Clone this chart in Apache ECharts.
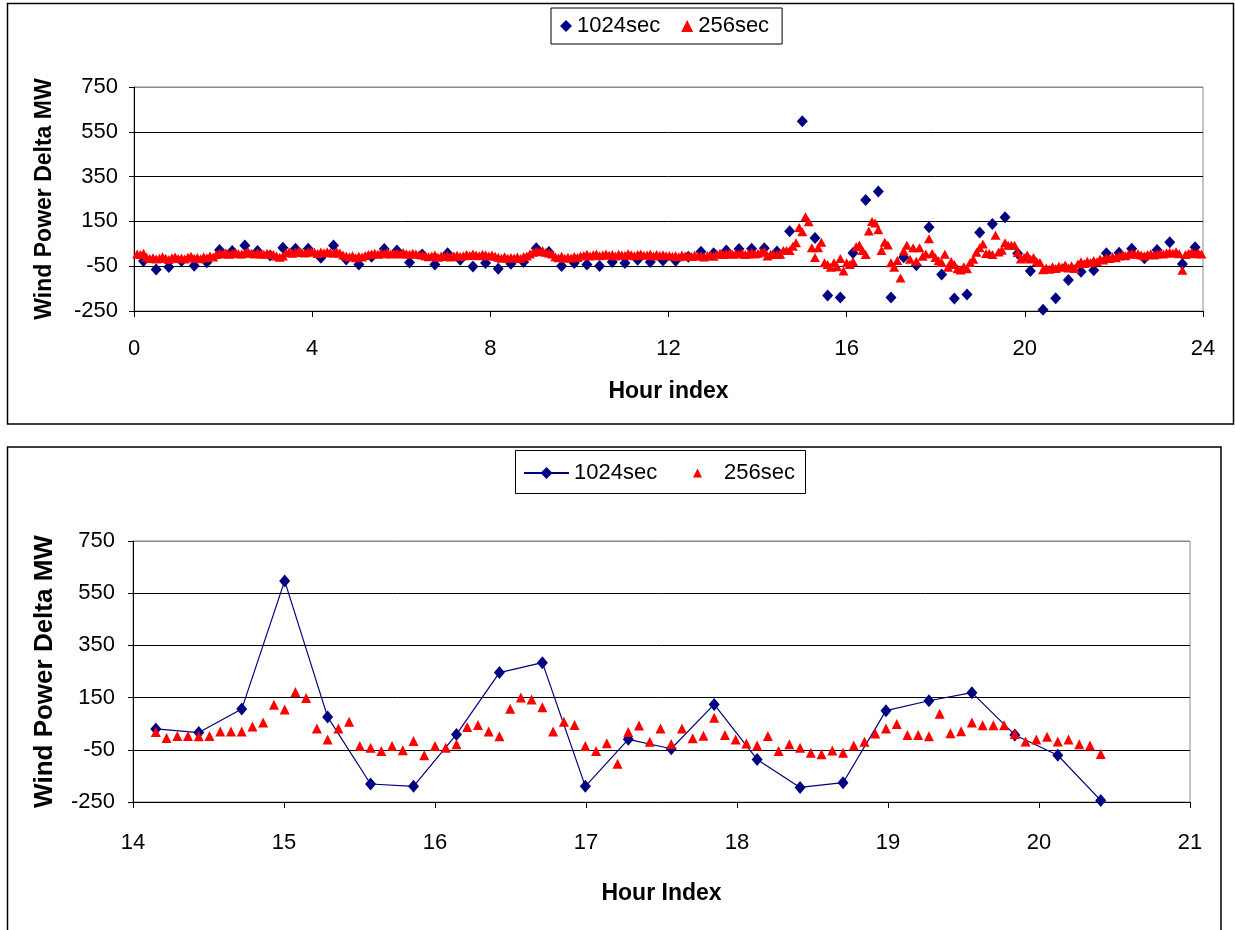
<!DOCTYPE html>
<html>
<head>
<meta charset="utf-8">
<script src="https://cdn.jsdelivr.net/npm/echarts@6/dist/echarts.min.js"></script>
<style>
html,body{margin:0;padding:0;background:#fff;}
#c{width:1235px;height:930px;}
</style>
</head>
<body>
<div id="c"></div>
<script>
// ---------------- DATA ----------------
const SERIES_NAMES = ['1024sec', '256sec'];
const SAMPLE_SEC = 256;                 // 256-second samples; 1024-second samples every 4th
const X_TITLE_TOP = 'Hour index';
const X_TITLE_BOTTOM = 'Hour Index';
const Y_TITLE = 'Wind Power Delta MW';
const xTicksTop = [0, 4, 8, 12, 16, 20, 24];
const xTicksBottom = [14, 15, 16, 17, 18, 19, 20, 21];
const yTicks = [-250, -50, 150, 350, 550, 750];
const zoomWindowHours = [14.1, 20.45];

// 1024sec deltas (MW), 84 samples
const v1024Morning = [-27, -65, -54, -27, -48, -32, 22, 18, 42, 18, -2, 32, 28, 28, -12, 42, -20, -42, -8, 27, 20];
const v1024Midday = [-34, 2, -42, 8, -21, -51, -36, -61, -39, -31, 30, 13, -49, -36, -42, -49, -31, -36, -21, -31, -25, -26, -8, 14, 8, 20, 27, 28];
const v1024Event = [30, 16, 106, 597, 76, -181, -190, 9, 246, 284, -190, -10, -46, 124, -87, -194, -176, 100, 138, 169, 7, -71, -244];
const v1024Night = [-193, -112, -75, -68, 8, 10, 28, -15, 22, 57, -40, 35];

// 256sec deltas (MW), 337 samples
const v256Early = [5, 2, 8,
 -10, -16, -12, -18, -14, -8, -15, -20, -12, -9, -16, -13, -18, -10, -6, -14, -11, -17, -8, -12, -5, -9,
 2, 8, 5, 10, 3, 7, 12, 6, 4, 9, 14, 8, 5, 10, 6, 3, 8, 5, 2,
 -5, -10, -4,
 10, 15, 8, 13, 18, 11, 9, 14, 16, 12, 7, 13, 10, 15, 11, 8, 14, 9,
 0, -5, -8, -3, -12, -6, -9, -2, 2,
 5, 8, 3, 10, 6, 12, 4, 7, 9, 5, 11, 6, 3, 8, 4, 2, 0,
 -3, -8, -5, 0, -10, -4, -7, -2, -9, -5, -1, -6, -3,
 2, -2, 4, 0, -3, 3, 1, -4, 0, -6,
 -10, -14, -8, -15, -11, -13, -9, -16, -7, -4,
 5, 12, 18, 15, 20, 12, 9, 4,
 -8, -12, -6, -14, -10, -13, -7, -11, -5,
 -2, 3, -4, 1, 5, -3, 0, 4, -1, 2, -5, 3, 0, -2, 6, 1, -3, 2, 4, -1, 0, 3, -4, 2, -2, 1, -3,
 -2, -6, -3, -8, 0, -5, -4, -7, -1, -5, -3, -9, -2, 0, -6,
 4, 8, 2, 6, 10, 3, 7, 5, 9, 2, 6, 11, 4, 8, 12];
const v256Event = [18, -5, 3, 3, 2, 3, 20, 20, 20, 39, 55, 123, 104, 171, 148, 32, -11, 32, 57, -35,
 -42, -55, -35, -52, -16, -71, -35, -42, -29, 37, 45, 20, 2, 107, 150, 143, 113, 20, 57, 45,
 -35, -55, -25, -103,
 18, 43, -19, 32, -28, 32, -6, 4, 73, 7, -11, -26, -34, 3, -55, -29, -42, -61, -67, -53,
 -61, -34, -19, 12, 32, 49, 7, 7, 2, 88, 13, 21, 55, 44, 44, 44, 11, -18, -11, 0,
 -18, -11, -29, -34, -66];
const v256Late = [-58, -64, -52, -60, -50, -55, -45, -58, -48, -60,
 -40, -30, -38, -28, -35, -25, -30, -18, -22, -12,
 -16, -8, -12, -4, 2, -3, 5, 8, 3, 6,
 0, -4, 2, 6, 0, 4, 8, 5, 10, 12,
 8, 14, 6, -68, 2, 8, 12, 6, 10, 4];

// ---------------- BUILD ----------------
const v1024 = [].concat(v1024Morning, v1024Midday, v1024Event, v1024Night);
const v256 = [].concat(v256Early, v256Event, v256Late);
const hours = s => s / 3600;
const pts1024 = v1024.map((v, i) => [hours((4 * (i + 1) - 1) * SAMPLE_SEC), v]);
const pts256 = v256.map((v, j) => [hours((j + 1) * SAMPLE_SEC), v]);
const inWin = p => p[0] >= zoomWindowHours[0] && p[0] <= zoomWindowHours[1];
const zoom1024 = pts1024.filter(inWin);
const zoom256 = pts256.filter(inWin);

const FONT = "'Liberation Sans', Arial, sans-serif";
const NAVY = '#000080', RED = '#FF0000';
const yStep = yTicks[1] - yTicks[0];

function xAxis(gi, ticks, title, labelMargin, nameGap) {
  return {
    type: 'value', gridIndex: gi,
    min: ticks[0], max: ticks[ticks.length - 1], interval: ticks[1] - ticks[0],
    axisLine: {show: true, onZero: false, lineStyle: {color: '#000', width: 1}},
    axisTick: {show: true, inside: false, length: 6, lineStyle: {color: '#000'}},
    axisLabel: {fontSize: 22, color: '#000', margin: labelMargin, fontFamily: FONT},
    splitLine: {show: false},
    name: title, nameLocation: 'middle', nameGap: nameGap,
    nameTextStyle: {fontSize: 23, fontWeight: 'bold', color: '#000', fontFamily: FONT}
  };
}
function yAxis(gi, labelMargin, nameGap, nameSize) {
  return {
    type: 'value', gridIndex: gi,
    min: yTicks[0], max: yTicks[yTicks.length - 1], interval: yStep,
    axisLine: {show: true, onZero: false, lineStyle: {color: '#000', width: 1}},
    axisTick: {show: true, inside: false, length: 5, lineStyle: {color: '#000'}},
    axisLabel: {fontSize: 22, color: '#000', margin: labelMargin, fontFamily: FONT},
    splitLine: {show: true, lineStyle: {color: ['#000', '#000', '#000', '#000', '#000', '#8a8a8a'], width: 1}},
    name: Y_TITLE, nameLocation: 'middle', nameGap: nameGap,
    nameTextStyle: {fontSize: nameSize, fontWeight: 'bold', color: '#000', fontFamily: FONT}
  };
}
const legendText = {fontSize: 22, color: '#000', fontFamily: FONT};

const chart = echarts.init(document.getElementById('c'), null, {renderer: 'canvas'});
chart.setOption({
  animation: false,
  backgroundColor: '#fff',
  graphic: [
    {type: 'rect', shape: {x: 7.5, y: 3.5, width: 1226, height: 420.5}, style: {fill: null, stroke: '#000', lineWidth: 1.5}, z: 100, silent: true},
    {type: 'rect', shape: {x: 7.5, y: 447, width: 1213.5, height: 520}, style: {fill: null, stroke: '#000', lineWidth: 1.5}, z: 100, silent: true},
    {type: 'rect', shape: {x: 515.5, y: 450.5, width: 290, height: 43}, style: {fill: null, stroke: '#000', lineWidth: 1}, z: 100, silent: true}
  ],
  grid: [
    {left: 134, top: 87, width: 1069, height: 224, show: true, borderColor: '#8a8a8a', borderWidth: 1, containLabel: false},
    {left: 133, top: 541, width: 1057, height: 261, show: true, borderColor: '#8a8a8a', borderWidth: 1, containLabel: false}
  ],
  legend: [
    {
      data: SERIES_NAMES.slice(), left: 551, top: 8, orient: 'horizontal',
      itemWidth: 12, itemHeight: 12, itemGap: 21, padding: [7, 13, 7, 9],
      borderColor: '#000', borderWidth: 1, backgroundColor: '#fff',
      textStyle: legendText, formatter: n => n.trim(), selectedMode: false
    },
    {
      data: [SERIES_NAMES[0] + ' '], left: 523, top: 462, orient: 'horizontal',
      itemWidth: 45, itemHeight: 15, padding: 0,
      textStyle: legendText, formatter: n => n.trim(), selectedMode: false
    },
    {
      data: [SERIES_NAMES[1] + ' '], left: 693, top: 462, orient: 'horizontal',
      itemWidth: 9, itemHeight: 9, padding: 0,
      textStyle: Object.assign({padding: [0, 0, 0, 17]}, legendText), formatter: n => n.trim(), selectedMode: false
    }
  ],
  xAxis: [xAxis(0, xTicksTop, X_TITLE_TOP, 27, 69), xAxis(1, xTicksBottom, X_TITLE_BOTTOM, 30, 80)],
  yAxis: [yAxis(0, 16, 78, 23), yAxis(1, 18, 75, 26)],
  series: [
    {name: SERIES_NAMES[0], type: 'scatter', xAxisIndex: 0, yAxisIndex: 0, symbol: 'diamond', symbolSize: [11, 12],
     itemStyle: {color: NAVY, opacity: 1}, data: pts1024, z: 2},
    {name: SERIES_NAMES[1], type: 'scatter', xAxisIndex: 0, yAxisIndex: 0, symbol: 'triangle', symbolSize: [10, 9],
     itemStyle: {color: RED, opacity: 1}, data: pts256, z: 3},
    {name: SERIES_NAMES[0] + ' ', type: 'line', xAxisIndex: 1, yAxisIndex: 1, symbol: 'diamond', symbolSize: [11, 13],
     showSymbol: true, showAllSymbol: true, lineStyle: {color: NAVY, width: 1.2}, itemStyle: {color: NAVY, opacity: 1},
     data: zoom1024, z: 2},
    {name: SERIES_NAMES[1] + ' ', type: 'scatter', xAxisIndex: 1, yAxisIndex: 1, symbol: 'triangle', symbolSize: [10, 10],
     itemStyle: {color: RED, opacity: 1}, data: zoom256, z: 3}
  ]
});
</script>
</body>
</html>
